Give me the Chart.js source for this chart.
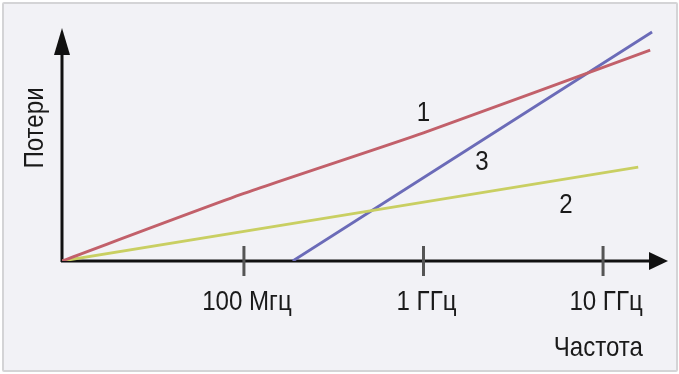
<!DOCTYPE html>
<html>
<head>
<meta charset="utf-8">
<script src="https://cdn.jsdelivr.net/npm/chart.js@4"></script>
<style>
  html, body { margin: 0; padding: 0; background: #ffffff; }
  #wrap { position: absolute; left: 0; top: 0; width: 679px; height: 374px; }
  #frame { position: absolute; left: 2px; top: 2px; width: 672px; height: 366px;
           border: 2px solid #d4d4d6; border-radius: 2px; background: #f2f2f6; }
  canvas { position: absolute; left: 0; top: 0; }
</style>
</head>
<body>
<div id="wrap">
  <div id="frame"></div>
  <canvas id="c" width="679" height="374"></canvas>
</div>
<script>
// Frequency in MHz (log axis), losses in arbitrary units
const line1Freq = [9.7, 100, 1000, 18300];
const line1Loss = [0, 29, 55, 90.5];
const line2Freq = [9.7, 15700];
const line2Loss = [0, 40.3];
const line3Freq = [187, 18750];
const line3Loss = [0, 98.3];

const tickValues = [100, 1000, 10000];
const tickLabels = ['100 Мгц', '1 ГГц', '10 ГГц'];

const curveNames = ['1', '2', '3'];
const curveLabelFreq = [1000, 6220, 2118];
const curveLabelLoss = [60.1, 20.6, 39.1];

const xTitle = 'Частота';
const yTitle = 'Потери';

const FONT = "'Liberation Sans', Arial, sans-serif";
const SQUEEZE = 0.86;

function pts(fs, ls) { return fs.map((f, i) => ({ x: f, y: ls[i] })); }

function narrowText(ctx, text, x, y, align) {
  ctx.save();
  ctx.translate(x, y);
  ctx.scale(SQUEEZE, 1);
  ctx.textAlign = align;
  ctx.textBaseline = 'alphabetic';
  ctx.fillText(text, 0, 0);
  ctx.restore();
}

const axesPlugin = {
  id: 'axesPlugin',
  beforeDatasetsDraw(chart) {
    const { ctx, chartArea: a, scales: { x, y } } = chart;
    const ox = x.getPixelForValue(x.min), oy = y.getPixelForValue(0);
    ctx.save();
    ctx.strokeStyle = '#111';
    ctx.fillStyle = '#111';
    ctx.lineWidth = 3;
    // x axis
    ctx.beginPath(); ctx.moveTo(ox - 1, oy); ctx.lineTo(a.right - 12, oy); ctx.stroke();
    ctx.beginPath(); ctx.moveTo(a.right, oy); ctx.lineTo(a.right - 19, oy - 9); ctx.lineTo(a.right - 19, oy + 9); ctx.closePath(); ctx.fill();
    // y axis
    ctx.beginPath(); ctx.moveTo(ox, oy + 1); ctx.lineTo(ox, a.top + 14); ctx.stroke();
    ctx.beginPath(); ctx.moveTo(ox, a.top); ctx.lineTo(ox - 8, a.top + 27); ctx.lineTo(ox + 8, a.top + 27); ctx.closePath(); ctx.fill();
    // ticks
    ctx.strokeStyle = '#555';
    ctx.lineWidth = 3;
    tickValues.forEach(v => {
      const px = x.getPixelForValue(v);
      ctx.beginPath(); ctx.moveTo(px, oy - 15); ctx.lineTo(px, oy + 15); ctx.stroke();
    });
    ctx.restore();
  },
  afterDatasetsDraw(chart) {
    const { ctx, scales: { x, y } } = chart;
    const oy = y.getPixelForValue(0);
    ctx.save();
    ctx.fillStyle = '#1a1a1a';
    ctx.font = '28px ' + FONT;
    tickValues.forEach((v, i) => {
      narrowText(ctx, tickLabels[i], x.getPixelForValue(v) + 3, oy + 49, 'center');
    });
    curveNames.forEach((n, i) => {
      narrowText(ctx, n, x.getPixelForValue(curveLabelFreq[i]), y.getPixelForValue(curveLabelLoss[i]), 'center');
    });
    narrowText(ctx, xTitle, 643, oy + 95, 'right');
    ctx.save();
    ctx.translate(43, 128);
    ctx.rotate(-Math.PI / 2);
    narrowText(ctx, yTitle, 0, 0, 'center');
    ctx.restore();
    ctx.restore();
  }
};

new Chart(document.getElementById('c'), {
  type: 'scatter',
  data: {
    datasets: [
      { data: pts(line1Freq, line1Loss), borderColor: '#c2606a', showLine: true },
      { data: pts(line2Freq, line2Loss), borderColor: '#c9cf62', showLine: true },
      { data: pts(line3Freq, line3Loss), borderColor: '#6b6bb8', showLine: true }
    ]
  },
  options: {
    responsive: false,
    devicePixelRatio: 1,
    animation: false,
    layout: { padding: { left: 62, right: 11, top: 28, bottom: 113 } },
    elements: { point: { radius: 0 }, line: { borderWidth: 2.8, tension: 0.2 } },
    plugins: { legend: { display: false }, tooltip: { enabled: false } },
    scales: {
      x: { type: 'logarithmic', min: 9.7, max: 23000, display: false },
      y: { type: 'linear', min: 0, max: 100, display: false }
    }
  },
  plugins: [axesPlugin]
});
</script>
</body>
</html>
